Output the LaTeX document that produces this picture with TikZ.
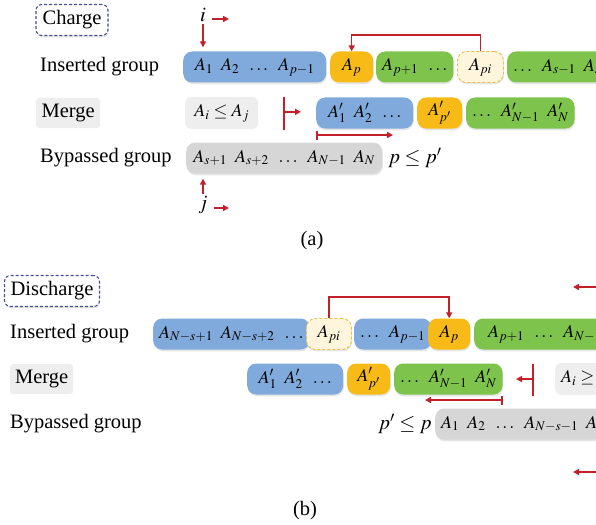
\documentclass[tikz,border=0pt]{standalone}
\usepackage{mathptmx}
\usepackage[no-math]{fontspec}
\setmainfont{Liberation Serif}
\usetikzlibrary{arrows.meta,shadows,calc}

\definecolor{cblue}{RGB}{128,170,219}
\definecolor{corange}{RGB}{248,186,22}
\definecolor{cgreen}{RGB}{126,196,76}
\definecolor{cgray}{RGB}{214,214,214}
\definecolor{cpale}{RGB}{238,238,238}
\definecolor{cpifill}{RGB}{255,245,220}
\definecolor{cpiline}{RGB}{236,190,70}
\definecolor{cnavy}{RGB}{70,76,150}
\definecolor{cred}{RGB}{196,32,42}

\begin{document}
\begin{tikzpicture}[x=1pt,y=-1pt,
  every node/.style={inner sep=0pt, font=\fontsize{20.5}{24}\selectfont},
  softshadow/.style={drop shadow={shadow xshift=0.6pt, shadow yshift=-1.8pt, opacity=0.22, fill=black!45}},
  cell/.style={rounded corners=9pt, minimum height=31pt, anchor=west, inner xsep=6pt,
    font=\fontsize{18}{22}\selectfont, softshadow},
  bluecell/.style={cell, fill=cblue},
  orangecell/.style={cell, fill=corange},
  greencell/.style={cell, fill=cgreen},
  graycell/.style={cell, fill=cgray},
  picell/.style={cell, fill=cpifill, draw=cpiline, densely dashed, line width=0.9pt},
  palecell/.style={rounded corners=6pt, minimum height=32pt, anchor=west, inner xsep=6pt,
    font=\fontsize{18}{22}\selectfont, fill=cpale},
  phasetag/.style={draw=cnavy, densely dashed, line width=1.1pt, rounded corners=6pt,
    fill=white, minimum height=31pt, softshadow},
  mergetag/.style={fill=cpale, rounded corners=3pt, minimum height=30pt, anchor=west},
  rowlabel/.style={anchor=west},
  redline/.style={draw=cred, line width=1.5pt},
  redarr/.style={redline, -{Triangle[length=6pt,width=6pt]}},
  spanarr/.style={redline, {Bar[width=9pt,line width=1.5pt]}-{Triangle[length=6pt,width=6pt]}},
]
\useasboundingbox (0,0) rectangle (596,524);
\clip (0,0) rectangle (596,524);

% ---------------- (a) charge ----------------
\node[phasetag, minimum width=72pt] (chg) at (72,20) {Charge};

\node (ia) at (203,15) {$i$};
\coordinate (iaend) at (229,19);
\draw[redarr] ([xshift=6pt]ia.east |- iaend) -- (iaend);

% inserted group
\node[rowlabel] (insa) at (40,67) {Inserted group};
\node[bluecell, minimum width=143pt] (a1) at (183,67) {$A_1\;\;A_2\;\;\ldots\;\;A_{p-1}$};
\node[orangecell, minimum width=43pt] (a2) at (330,67) {$A_p$};
\node[greencell, minimum width=77pt] (a3) at (376,67) {$A_{p+1}\;\;\ldots$};
\node[picell, minimum width=46pt] (a4) at (457,67) {$A_{pi}$};
\node[greencell, text width=110pt, align=left] (a5) at (507,67) {$\ldots\;\;A_{s-1}\;\;A_s$};

\draw[redarr, shorten <=2pt, shorten >=4pt] (ia.south) -- (ia |- a1.north);
\draw[redarr] (a4.north) -- ++(0,-16) -| (a2.north);

% merge
\node[mergetag, minimum width=64pt] (mrga) at (36,113) {Merge};
\node[palecell, minimum width=73pt] (cmpa) at (185,113) {$A_i\le A_j$};
\coordinate (bara) at (284,97);
\coordinate (barb) at (284,130);
\draw[redline] (bara) -- (barb);
\draw[redarr] ($(bara)!0.45!(barb)$) -- ++(17,0);
\node[bluecell, minimum width=97pt] (m1) at (316,113) {$A'_1\;\;A'_2\;\;\ldots$};
\node[orangecell, minimum width=45pt] (m2) at (417,113) {$A'_{p'}$};
\node[greencell, minimum width=101pt] (m3) at (466,113) {$\ldots\;\;A'_{N-1}\;\;A'_N$};
\coordinate (spana) at (393,135);
\draw[spanarr] (m1.west |- spana) -- (spana);

% bypassed group
\node[rowlabel] (bypa) at (40,158) {Bypassed group};
\node[graycell, minimum width=196pt] (g1) at (186,158) {$A_{s+1}\;\;A_{s+2}\;\;\ldots\;\;A_{N-1}\;\;A_N$};
\node (conda) at (415,158) {$p\le p'$};

\node (ja) at (203,205) {$j$};
\draw[redarr, shorten <=2pt, shorten >=5pt] (ja.north) -- (ja |- g1.south);
\coordinate (jaend) at (229,208);
\draw[redarr] ([xshift=6pt]ja.east |- jaend) -- (jaend);

\node (capa) at (312,241) {(a)};

% ---------------- (b) discharge ----------------
\node[phasetag, minimum width=95pt] (dis) at (52,291) {Discharge};
\coordinate (ibtail) at (600,287);
\coordinate (ibhead) at (573,287);
\draw[redarr] (ibtail) -- (ibhead);

% inserted group
\node[rowlabel] (insb) at (10,334) {Inserted group};
\node[bluecell, minimum width=150pt] (b1) at (153,334) {$A_{N-s+1}\;\;A_{N-s+2}\;\;\ldots$};
\node[picell, minimum width=45pt] (b2) at (306,334) {$A_{pi}$};
\node[bluecell, minimum width=70pt] (b3) at (354,334) {$\ldots\;\;A_{p-1}$};
\node[orangecell, minimum width=42pt] (b4) at (428,334) {$A_p$};
\node[greencell, text width=160pt, align=left] (b5) at (474,334) {\;\,$A_{p+1}\;\;\ldots\;\;A_{N-1}\;\;A_N$};
\draw[redarr] (b2.north) -- ++(0,-21) -| (b4.north);

% merge
\node[mergetag, minimum width=63pt] (mrgb) at (10,379) {Merge};
\node[bluecell, minimum width=96pt] (n1) at (247,379) {$A'_1\;\;A'_2\;\;\ldots$};
\node[orangecell, minimum width=43pt] (n2) at (347,379) {$A'_{p'}$};
\node[greencell, minimum width=105pt] (n3) at (394,379) {$\ldots\;\;A'_{N-1}\;\;A'_N$};
\coordinate (barc) at (533,364);
\coordinate (bard) at (533,396);
\draw[redline] (barc) -- (bard);
\draw[redarr] ($(barc)!0.47!(bard)$) -- ++(-17,0);
\node[palecell, text width=70pt, align=left] (cmpb) at (555,379) {$A_i\ge A_j$};
\coordinate (spanb) at (425,400);
\draw[spanarr] (n3.east |- spanb) -- (spanb);

% bypassed group
\node[rowlabel] (bypb) at (10,424) {Bypassed group};
\node (condb) at (405,424) {$p'\le p$};
\node[graycell, text width=210pt, align=left] (h1) at (435,424) {$A_1\;\;A_2\;\;\ldots\;\;A_{N-s-1}\;\;A_{N-s}$};
\coordinate (jbtail) at (600,472);
\coordinate (jbhead) at (573,472);
\draw[redarr] (jbtail) -- (jbhead);

\node (capb) at (305,511) {(b)};
\end{tikzpicture}
\end{document}
